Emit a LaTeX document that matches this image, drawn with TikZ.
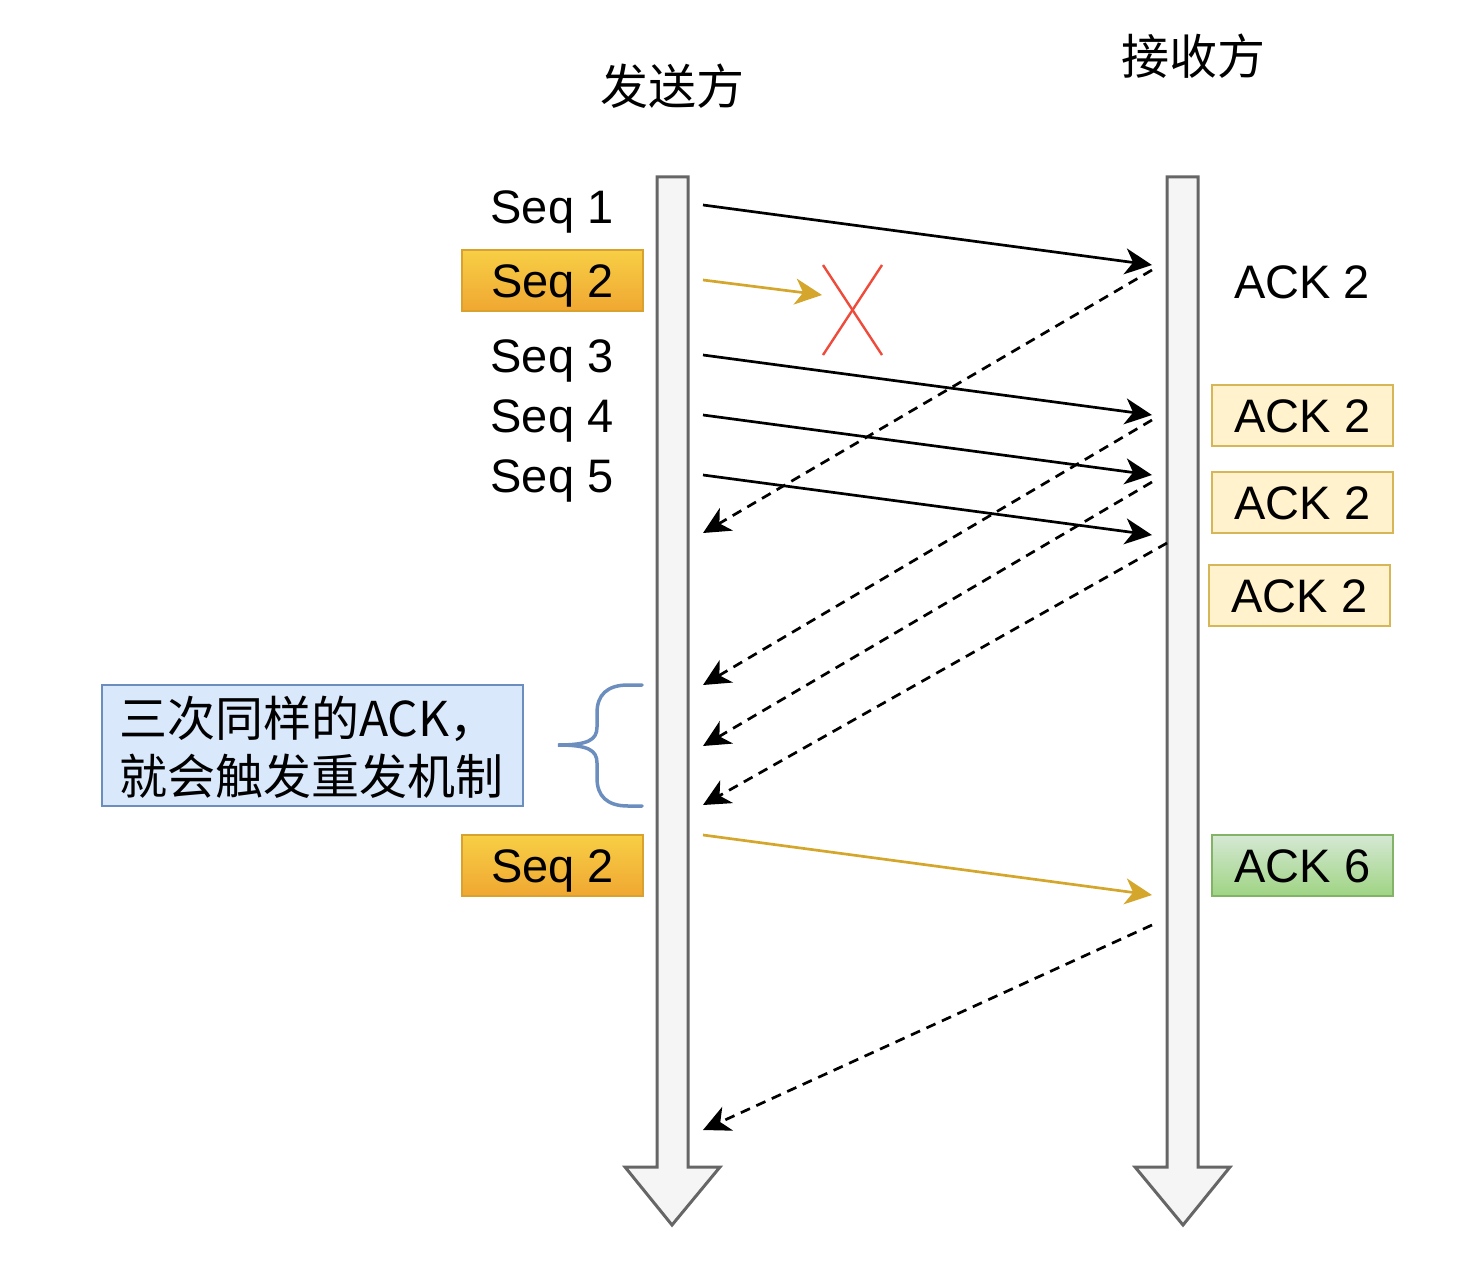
\documentclass[tikz,border=0pt]{standalone}
\usepackage{fontspec}
\setmainfont{Liberation Sans}
\newfontfamily\cjk{Noto Sans CJK SC}
\usetikzlibrary{arrows.meta}
\definecolor{barfill}{HTML}{F5F5F5}
\definecolor{barline}{HTML}{666666}
\definecolor{goldtop}{HTML}{F7CF45}
\definecolor{goldbot}{HTML}{F0A732}
\definecolor{goldline}{HTML}{D9A22E}
\definecolor{goldarrow}{HTML}{D4A72C}
\definecolor{yelfill}{HTML}{FFF2CC}
\definecolor{yelline}{HTML}{D6B656}
\definecolor{grntop}{HTML}{D5E8D4}
\definecolor{grnbot}{HTML}{9FD483}
\definecolor{grnline}{HTML}{82B366}
\definecolor{bluefill}{HTML}{DAE8FC}
\definecolor{blueline}{HTML}{6C8EBF}
\definecolor{xred}{HTML}{EE4B3B}
\tikzset{
  lbl/.style={font=\fontsize{47}{56}\selectfont, inner sep=0pt, text height=33.7pt, text depth=0pt},
  cjklbl/.style={font=\cjk\fontsize{48}{58}\selectfont, inner sep=0pt},
  boxbase/.style={lbl, minimum width=181pt, minimum height=61pt, line width=2pt},
  goldbox/.style={boxbase, draw=goldline, top color=goldtop, bottom color=goldbot},
  yelbox/.style={boxbase, draw=yelline, fill=yelfill},
  grnbox/.style={boxbase, draw=grnline, top color=grntop, bottom color=grnbot},
  bar/.style={draw=barline, fill=barfill, line width=3pt, line join=miter},
  msg/.style={line width=2.7pt, -{Stealth[length=27pt,width=26pt,inset=8pt]}},
  ack/.style={msg, dash pattern=on 10pt off 7pt},
}
\begin{document}
\begin{tikzpicture}[x=1pt,y=-1pt]
\useasboundingbox (0,0) rectangle (1471,1273);
% timelines
\draw[bar] (657,177) -- (688,177) -- (688,1167) -- (720,1167) -- (672,1225) -- (625,1167) -- (657,1167) -- cycle;
\draw[bar] (1167,177) -- (1198,177) -- (1198,1167) -- (1230,1167) -- (1183,1225) -- (1135,1167) -- (1167,1167) -- cycle;
% titles
\node[cjklbl] (sender) at (672,86) {发送方};
\node[cjklbl] (receiver) at (1193,56) {接收方};
% sender labels
\node[lbl] (seq1) at (552,207) {Seq 1};
\node[goldbox] (seq2) at (552.5,280.5) {Seq 2};
\node[lbl] (seq3) at (552,356) {Seq 3};
\node[lbl] (seq4) at (552,416) {Seq 4};
\node[lbl] (seq5) at (552,476) {Seq 5};
\node[goldbox] (seq2b) at (552.5,865.5) {Seq 2};
% receiver labels
\node[lbl] (ack0) at (1302,282) {ACK 2};
\node[yelbox] (ack1) at (1302.5,415.5) {ACK 2};
\node[yelbox] (ack2) at (1302.5,502.5) {ACK 2};
\node[yelbox] (ack3) at (1299.5,595.5) {ACK 2};
\node[grnbox] (ack6) at (1302.5,865.5) {ACK 6};
% note
\node[draw=blueline, fill=bluefill, line width=2pt, minimum width=421pt, minimum height=121pt, inner sep=0pt] (note) at (312.5,745.5) {};
\node[cjklbl, align=left, anchor=west] (notetext) at (119,747) {三次同样的ACK，\\就会触发重发机制};
% brace
\draw[blueline, line width=3.5pt, line cap=round] (642,685) -- (628,685) .. controls (607,685) and (597,695) .. (597,713) -- (597,727) .. controls (597,740) and (588,745) .. (558,745) .. controls (588,745) and (597,750) .. (597,763) -- (597,778) .. controls (597,796) and (607,806) .. (628,806) -- (642,806);
% coordinates on timelines
\coordinate (a1) at (703,205); \coordinate (b1) at (1152,265);
\coordinate (a2) at (703,280); \coordinate (lost) at (822,295);
\coordinate (a3) at (703,355); \coordinate (b3) at (1152,415);
\coordinate (a4) at (703,415); \coordinate (b4) at (1152,475);
\coordinate (a5) at (703,475); \coordinate (b5) at (1152,535);
\coordinate (r1) at (1152,270); \coordinate (l1) at (703,533);
\coordinate (r2) at (1152,420); \coordinate (l2) at (703,685);
\coordinate (r3) at (1152,482); \coordinate (l3) at (703,746);
\coordinate (r4) at (1167,543); \coordinate (l4) at (703,805);
\coordinate (a6) at (703,835); \coordinate (b6) at (1152,895);
\coordinate (r6) at (1152,925); \coordinate (l6) at (703,1130);
% messages
\draw[msg] (a1) -- (b1);
\draw[msg, goldarrow] (a2) -- (lost);
\draw[msg] (a3) -- (b3);
\draw[msg] (a4) -- (b4);
\draw[msg] (a5) -- (b5);
\draw[ack] (r1) -- (l1);
\draw[ack] (r2) -- (l2);
\draw[ack] (r3) -- (l3);
\draw[ack] (r4) -- (l4);
\draw[msg, goldarrow] (a6) -- (b6);
\draw[ack] (r6) -- (l6);
% lost mark
\coordinate (x1) at (823,265); \coordinate (x2) at (882,355);
\coordinate (x3) at (882,265); \coordinate (x4) at (823,355);
\draw[xred, line width=2.4pt] (x1) -- (x2);
\draw[xred, line width=2.4pt] (x3) -- (x4);
\end{tikzpicture}
\end{document}
